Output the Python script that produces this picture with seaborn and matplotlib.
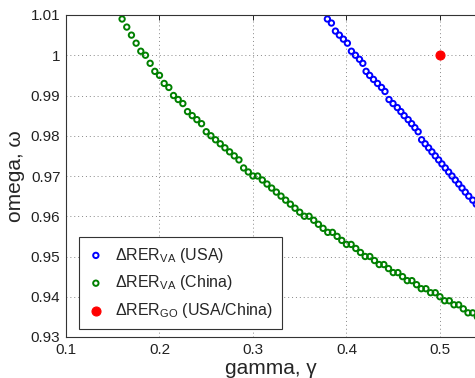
import numpy as np
import pandas as pd
import matplotlib
matplotlib.use("Agg")
import matplotlib.pyplot as plt
import seaborn as sns

# Delta RER_VA (USA) curve
gamma_usa = [0.3796, 0.3839, 0.3882, 0.3924, 0.3967, 0.4010, 0.4053, 0.4096, 0.4139, 0.4175,
             0.4210, 0.4248, 0.4289, 0.4332, 0.4375, 0.4412, 0.4455, 0.4498, 0.4544, 0.4582,
             0.4617, 0.4660, 0.4697, 0.4732, 0.4767, 0.4804, 0.4842, 0.4879, 0.4914, 0.4950,
             0.4986, 0.5021, 0.5057, 0.5093, 0.5129, 0.5164, 0.5201, 0.5236, 0.5271, 0.5308,
             0.5351, 0.5388]
omega_usa = [1.009, 1.008, 1.006, 1.005, 1.004, 1.003, 1.001, 1.000, 0.999, 0.998,
             0.996, 0.995, 0.994, 0.993, 0.992, 0.991, 0.989, 0.988, 0.987, 0.986,
             0.985, 0.984, 0.983, 0.982, 0.981, 0.979, 0.978, 0.977, 0.976, 0.975,
             0.974, 0.973, 0.972, 0.971, 0.970, 0.969, 0.968, 0.967, 0.966, 0.965,
             0.964, 0.963]

# Delta RER_VA (China) curve
gamma_china = [0.160, 0.165, 0.170, 0.175, 0.180, 0.185, 0.190, 0.195, 0.200, 0.205,
               0.210, 0.215, 0.220, 0.225, 0.230, 0.235, 0.240, 0.245, 0.250, 0.255,
               0.260, 0.265, 0.270, 0.275, 0.280, 0.285, 0.290, 0.295, 0.300, 0.305,
               0.310, 0.315, 0.320, 0.325, 0.330, 0.335, 0.340, 0.345, 0.350, 0.355,
               0.360, 0.365, 0.370, 0.375, 0.380, 0.385, 0.390, 0.395, 0.400, 0.405,
               0.410, 0.415, 0.420, 0.425, 0.430, 0.435, 0.440, 0.445, 0.450, 0.455,
               0.460, 0.465, 0.470, 0.475, 0.480, 0.485, 0.490, 0.495, 0.500, 0.505,
               0.510, 0.515, 0.520, 0.525, 0.530, 0.535, 0.540]
omega_china = [1.009, 1.007, 1.005, 1.003, 1.001, 1.000, 0.998, 0.996, 0.995, 0.993,
               0.992, 0.990, 0.989, 0.988, 0.986, 0.985, 0.984, 0.983, 0.981, 0.980,
               0.979, 0.978, 0.977, 0.976, 0.975, 0.974, 0.972, 0.971, 0.970, 0.970,
               0.969, 0.968, 0.967, 0.966, 0.965, 0.964, 0.963, 0.962, 0.961, 0.960,
               0.960, 0.959, 0.958, 0.957, 0.956, 0.956, 0.955, 0.954, 0.953, 0.953,
               0.952, 0.951, 0.950, 0.950, 0.949, 0.948, 0.948, 0.947, 0.946, 0.946,
               0.945, 0.944, 0.944, 0.943, 0.942, 0.942, 0.941, 0.941, 0.940, 0.939,
               0.939, 0.938, 0.938, 0.937, 0.936, 0.936, 0.935]

# Delta RER_GO (USA/China) point
gamma_go = [0.5]
omega_go = [1.0]

x_ticks = [0.1, 0.2, 0.3, 0.4, 0.5]
y_ticks = [0.93, 0.94, 0.95, 0.96, 0.97, 0.98, 0.99, 1.0, 1.01]
y_ticklabels = ["0.93", "0.94", "0.95", "0.96", "0.97", "0.98", "0.99", "1", "1.01"]

sns.set_style("white")
plt.rcParams['font.family'] = ['Liberation Sans', 'DejaVu Sans']
plt.rcParams['mathtext.fontset'] = 'custom'
plt.rcParams['mathtext.rm'] = 'Liberation Sans'

usa = pd.DataFrame({'gamma': gamma_usa, 'omega': omega_usa})
china = pd.DataFrame({'gamma': gamma_china, 'omega': omega_china})
go = pd.DataFrame({'gamma': gamma_go, 'omega': omega_go})

fig = plt.figure(figsize=(4.75, 3.78), dpi=100)
ax = fig.add_axes([66 / 475, 41 / 378, 409 / 475, 322 / 378])

sns.scatterplot(data=usa, x='gamma', y='omega', ax=ax, marker='o', s=15,
                color='blue', facecolor='none', edgecolor='blue', linewidth=1.4,
                label='ΔRER$_{\\mathregular{VA}}$ (USA)')
sns.scatterplot(data=china, x='gamma', y='omega', ax=ax, marker='o', s=15,
                color='green', facecolor='none', edgecolor='#008000', linewidth=1.4,
                label='ΔRER$_{\\mathregular{VA}}$ (China)')
sns.scatterplot(data=go, x='gamma', y='omega', ax=ax, marker='o', s=42,
                color='red', edgecolor='red', linewidth=0.8,
                label='ΔRER$_{\\mathregular{GO}}$ (USA/China)', zorder=5)

ax.set_xlim(0.1, 0.5375)
ax.set_ylim(0.93, 1.01)
ax.set_xticks(x_ticks)
ax.set_xticklabels([f"{t:g}" for t in x_ticks])
ax.set_yticks(y_ticks)
ax.set_yticklabels(y_ticklabels)

ax.grid(True, linestyle=(0, (1, 3)), color='#888888', linewidth=0.7)
ax.tick_params(direction='in', length=3.5, width=0.7, top=True, right=False,
               labelsize=11, colors='#222222', pad=4)
for name, sp in ax.spines.items():
    sp.set_color('#333333')
    sp.set_linewidth(0.8)
ax.spines['right'].set_visible(False)

ax.set_xlabel('gamma, γ', fontsize=15, labelpad=2)
ax.set_ylabel('omega, ω', fontsize=15, labelpad=4)

leg = ax.legend(loc='lower left', bbox_to_anchor=(0.032, 0.025), borderaxespad=0,
                fontsize=11.5, frameon=True, fancybox=False, framealpha=1,
                edgecolor='#333333', handlelength=1.0, handletextpad=0.7,
                labelspacing=0.55, borderpad=0.55, markerscale=1.0)
leg.get_frame().set_linewidth(0.8)

fig.savefig("out.png", dpi=100)
